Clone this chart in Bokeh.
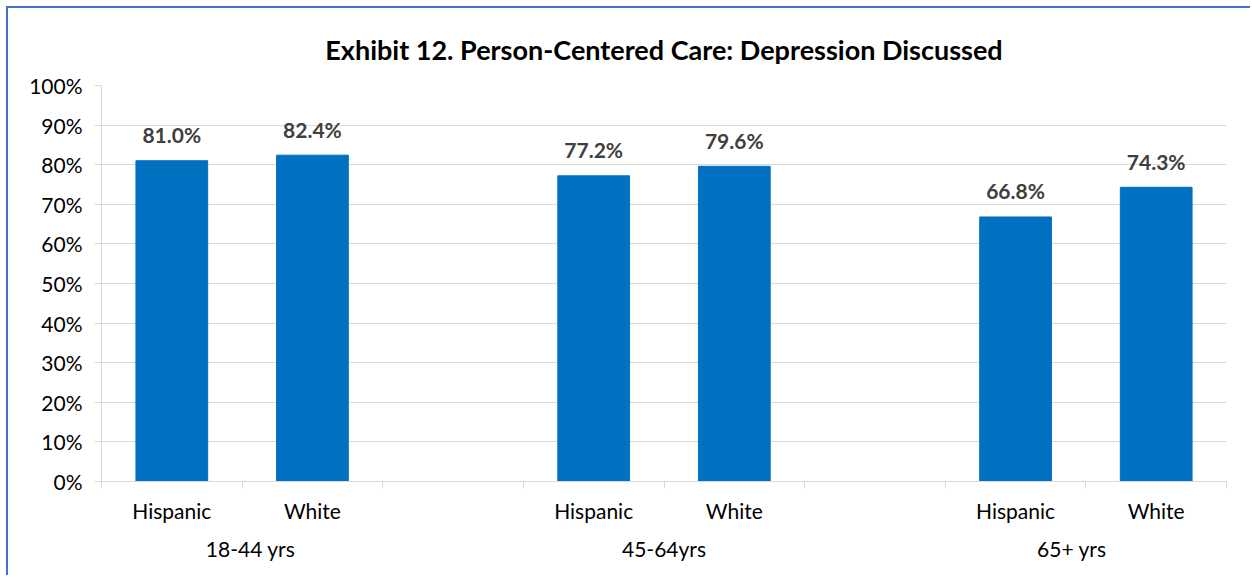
from bokeh.plotting import figure
from bokeh.models import ColumnDataSource, FixedTicker, LinearAxis, PrintfTickFormatter, Range1d
from bokeh.core.properties import value
from bokeh.embed import file_html
from bokeh.resources import INLINE

title_text = "Exhibit 12. Person-Centered Care: Depression Discussed"
groups = ["18-44 yrs", "45-64yrs", "65+ yrs"]
races = ["Hispanic", "White"]
hispanic = [81.0, 77.2, 66.8]
white = [82.4, 79.6, 74.3]
y_ticks = list(range(0, 101, 10))

FONT = "Lato"
BAR = "#0070C0"
GRID = "#D9D9D9"

# slot layout: each group has Hispanic, White, then a blank slot (last group without blank)
xs, vals, labs = [], [], []
for g, (h, w) in enumerate(zip(hispanic, white)):
    for r, v in enumerate((h, w)):
        xs.append(3 * g + 0.5 + r)
        vals.append(v)
        labs.append(f"{v:.1f}%")
n_slots = 3 * len(groups) - 1

src = ColumnDataSource(dict(x=xs, top=vals, lab=labs))

OX, OY = 8, 8  # content origin on the page (6px margin + 2px border)
W, H = 1244, 569
p = figure(width=W, height=H, output_backend="svg", toolbar_location=None,
           x_range=Range1d(0, n_slots), y_range=Range1d(0, 100),
           min_border_left=101 - OX, min_border_right=W + OX - 1226, min_border_top=85 - OY,
           min_border_bottom=H + OY - 481,
           title=title_text, x_axis_type=None)
p.styles = {"margin-left": "6px", "margin-top": "6px",
            "border-left": "2px solid #4472C4", "border-top": "2px solid #4472C4"}
p.outline_line_color = None
p.background_fill_color = "white"
p.border_fill_color = "white"

p.title.align = "center"
p.title.text_font = FONT
p.title.text_font_size = "27px"
p.title.text_font_style = "bold"
p.title.text_color = "black"
p.title.standoff = 40

p.vbar(x="x", top="top", width=0.51, source=src, color=BAR, line_color=BAR)
p.text(x="x", y="top", text="lab", source=src, text_align="center", text_baseline="middle",
       y_offset=-26, text_font=value(FONT), text_font_size="21px", text_font_style="bold",
       text_color="#404040")

# y axis
p.yaxis.ticker = FixedTicker(ticks=y_ticks)
p.yaxis.formatter = PrintfTickFormatter(format="%d%%")
p.yaxis.axis_line_color = GRID
p.yaxis.major_tick_line_color = GRID
p.yaxis.major_tick_in = 0
p.yaxis.major_tick_out = 7
p.yaxis.minor_tick_line_color = None
p.yaxis.major_label_standoff = 12
p.yaxis.major_label_text_font = FONT
p.yaxis.major_label_text_font_size = "21px"
p.yaxis.major_label_text_color = "black"
p.ygrid.grid_line_color = GRID
p.xgrid.grid_line_color = None

# x axis: category labels at slot centers, tick marks at slot boundaries
centers = [3 * g + 0.5 + r for g in range(len(groups)) for r in range(len(races))]
xa = LinearAxis(ticker=FixedTicker(ticks=centers, minor_ticks=list(range(n_slots + 1))))
xa.major_label_overrides = {c: races[i % 2] for i, c in enumerate(centers)}
xa.axis_line_color = GRID
xa.major_tick_line_color = None
xa.minor_tick_line_color = GRID
xa.minor_tick_in = 0
xa.minor_tick_out = 7
xa.major_tick_out = 0
xa.major_tick_in = 0
xa.major_label_standoff = 9
xa.major_label_text_font = FONT
xa.major_label_text_font_size = "21px"
xa.major_label_text_color = "black"
p.add_layout(xa, "below")

group_pos = [1.06, 4.0, 6.9]
ga = LinearAxis(ticker=FixedTicker(ticks=group_pos))
ga.major_label_overrides = {gp: groups[i] for i, gp in enumerate(group_pos)}
ga.axis_line_color = None
ga.major_tick_line_color = None
ga.minor_tick_line_color = None
ga.major_tick_out = 0
ga.major_tick_in = 0
ga.major_label_standoff = 10
ga.major_label_text_font = FONT
ga.major_label_text_font_size = "21px"
ga.major_label_text_color = "black"
p.add_layout(ga, "below")

open("out.html", "w").write(file_html(p, INLINE))
